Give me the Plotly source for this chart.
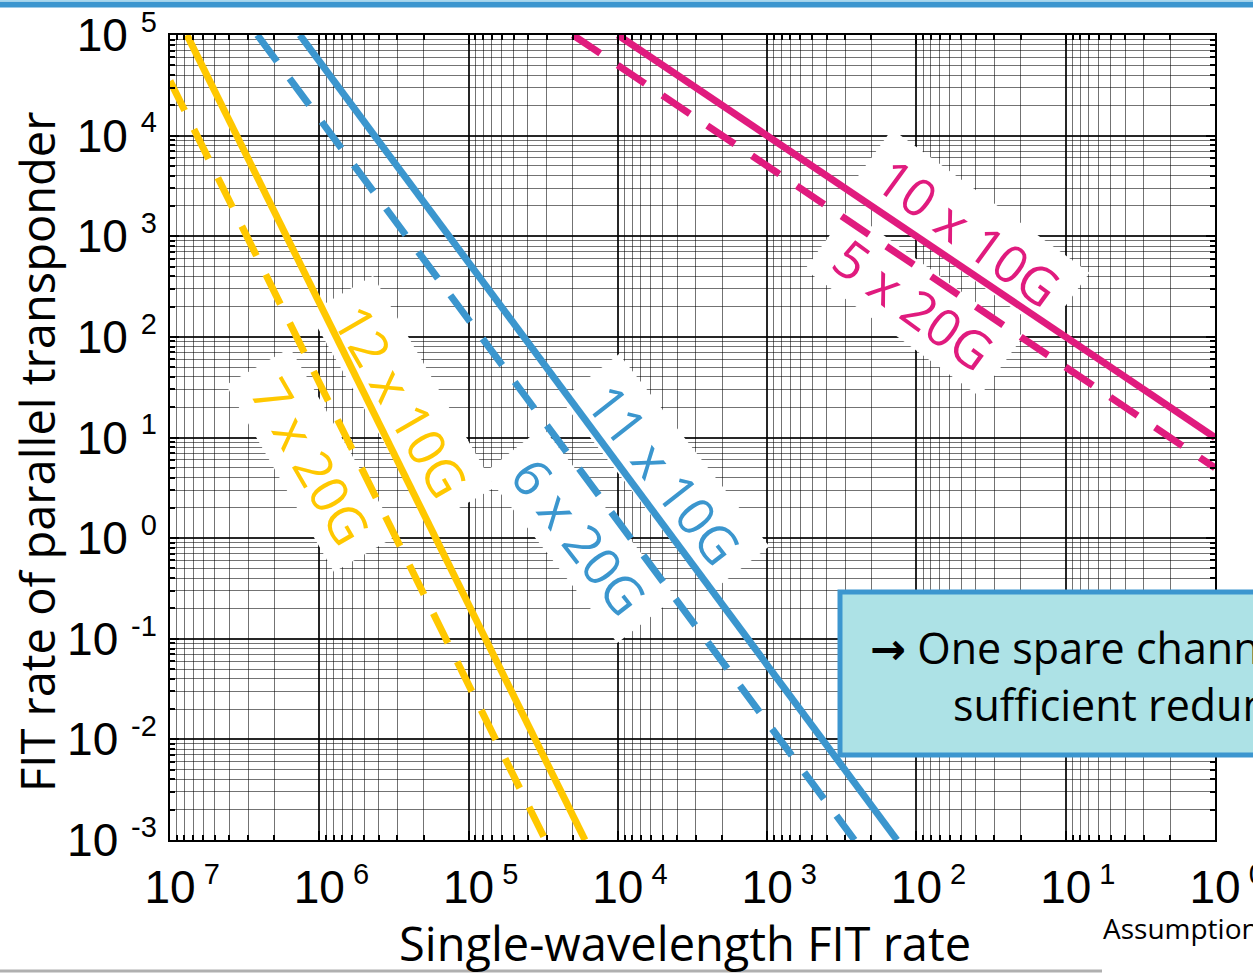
import math
import plotly.graph_objects as go

# ---- data ----
x_10x10G = [1e4, 1.0]
y_10x10G = [1e5, 10.0]
x_5x20G = [2e4, 1.0]
y_5x20G = [1e5, 5.0]
x_11x10G = [1.35e6, 135.0]
y_11x10G = [1e5, 1e-3]
x_6x20G = [2.6e6, 260.0]
y_6x20G = [1e5, 1e-3]
x_12x10G = [7.7e6, 1.66e4]
y_12x10G = [1e5, 1e-3]
x_7x20G = [1e7, 3.06e4]
y_7x20G = [3.5e4, 1e-3]

x_exponents = [7, 6, 5, 4, 3, 2, 1, 0]
y_exponents = [5, 4, 3, 2, 1, 0, -1, -2, -3]
minor_mults = [2, 3, 4, 5, 6, 7, 8, 9]

YELLOW = "#FFC800"
BLUE = "#3B96CE"
MAGENTA = "#E01B7E"

# plot-area geometry (pixels)
L, R, T, B = 170, 1215, 35, 840
W_FIG, H_FIG = 1253, 975
XDEC = (R - L) / 7.0
YDEC = (B - T) / 8.0


def px2log(px, py):
    return 7 - (px - L) / XDEC, 5 - (py - T) / YDEC


fig = go.Figure()

# ---- curve labels: (text, centre px, centre py, angle, colour, box length) ----
LABEL_SIZE = 52
labels = [
    ("10 x 10G", 969, 231, 36, MAGENTA, 244),
    ("5 x 20G", 914, 303, 36, MAGENTA, 216),
    ("11 x 10G", 665, 473, 52, BLUE, 244),
    ("6 x 20G", 580, 535, 52, BLUE, 216),
    ("12 x 10G", 402, 400, 60, YELLOW, 244),
    ("7 x 20G", 312, 460, 60, YELLOW, 216),
]
BOX_T = 74

# white label boxes (under the lines, above the grid)
for text, cx, cy, ang, col, blen in labels:
    a = math.radians(ang)
    ux, uy = math.cos(a), math.sin(a)
    nx, ny = -math.sin(a), math.cos(a)
    xs, ys = [], []
    for su, sn in [(-1, -1), (1, -1), (1, 1), (-1, 1), (-1, -1)]:
        px = cx + su * blen / 2 * ux + sn * BOX_T / 2 * nx
        py = cy + su * blen / 2 * uy + sn * BOX_T / 2 * ny
        lx, ly = px2log(px, py)
        xs.append(10 ** lx)
        ys.append(10 ** ly)
    fig.add_trace(go.Scatter(x=xs, y=ys, mode="lines", fill="toself",
                             fillcolor="white", line=dict(width=0, color="white"),
                             showlegend=False, hoverinfo="skip"))


def add_line(x, y, color, dash):
    fig.add_trace(go.Scatter(x=x, y=y, mode="lines",
                             line=dict(color=color, width=7, dash=dash),
                             showlegend=False, hoverinfo="skip"))


DASH = "33px,21px"
add_line(x_7x20G, y_7x20G, YELLOW, DASH)
add_line(x_12x10G, y_12x10G, YELLOW, "solid")
add_line(x_6x20G, y_6x20G, BLUE, DASH)
add_line(x_11x10G, y_11x10G, BLUE, "solid")
add_line(x_5x20G, y_5x20G, MAGENTA, DASH)
add_line(x_10x10G, y_10x10G, MAGENTA, "solid")

for text, cx, cy, ang, col, blen in labels:
    lx, ly = px2log(cx, cy)
    fig.add_annotation(x=lx, y=ly, xref="x", yref="y", text=text, showarrow=False,
                       textangle=ang, xanchor="center", yanchor="middle",
                       font=dict(family="Open Sans", size=LABEL_SIZE, color=col))

xt = [10.0 ** e for e in x_exponents]
yt = [10.0 ** e for e in y_exponents]
x_minor = [m * 10.0 ** e for e in range(0, 7) for m in minor_mults]
y_minor = [m * 10.0 ** e for e in range(-3, 5) for m in minor_mults]

SUP = "<sup><span style='font-size:29px'>{}</span></sup>"
SUPX = "<sup><span style='font-size:29px'>&nbsp;{}</span></sup>"
HID = "<span style='color:rgba(0,0,0,0)'>" + SUPX + "</span>"
x_ticktext = [HID.format(e) + "10" + SUPX.format(e) for e in x_exponents]
y_ticktext = ["10 " + SUP.format(e) for e in y_exponents]

tickfont = dict(family="Liberation Sans, Arial", size=46, color="black")
common = dict(type="log", showline=True, linecolor="black", linewidth=2,
              mirror="allticks", ticks="inside", ticklen=9, tickcolor="black",
              tickwidth=1.5, showgrid=True, gridcolor="rgba(0,0,0,0.85)",
              gridwidth=1.5, zeroline=False, tickfont=tickfont,
              ticklabeloverflow="allow")

fig.update_xaxes(range=[7, 0], tickvals=xt, ticktext=x_ticktext,
                 minor=dict(tickvals=x_minor, ticks="inside", ticklen=5,
                            tickcolor="black", showgrid=True,
                            gridcolor="rgba(0,0,0,0.55)", gridwidth=1),
                 ticklabelstandoff=6, **common)
fig.update_yaxes(range=[-3, 5], tickvals=yt, ticktext=y_ticktext,
                 minor=dict(tickvals=y_minor, ticks="inside", ticklen=5,
                            tickcolor="black", showgrid=True,
                            gridcolor="rgba(0,0,0,0.55)", gridwidth=1),
                 ticklabelstandoff=2, **common)


def pxx(px):
    return (px - L) / (R - L)


def pxy(py):
    return (B - py) / (B - T)


# axis titles
fig.add_annotation(x=pxx(37), y=pxy(452), xref="paper", yref="paper",
                   xanchor="center", yanchor="middle",
                   text="FIT rate of parallel transponder", showarrow=False,
                   textangle=-90, font=dict(family="Open Sans", size=47, color="black"))
fig.add_annotation(x=pxx(685), y=pxy(943), xref="paper", yref="paper",
                   xanchor="center", yanchor="middle",
                   text="Single-wavelength FIT rate", showarrow=False,
                   font=dict(family="Open Sans", size=47, color="black"))

# callout box
fig.add_shape(type="rect", xref="paper", yref="paper", x0=pxx(840), x1=pxx(1275),
              y0=pxy(755), y1=pxy(592), fillcolor="#ADE2E6",
              line=dict(color="#3C96CF", width=5), layer="above")
fig.add_annotation(x=pxx(868), y=pxy(647), xref="paper", yref="paper",
                   xanchor="left", yanchor="middle",
                   text="<span style='font-family:DejaVu Sans'><b>→</b></span> One spare channel provides",
                   showarrow=False,
                   font=dict(family="Open Sans", size=43, color="black"))
fig.add_annotation(x=pxx(951), y=pxy(704), xref="paper", yref="paper",
                   xanchor="left", yanchor="middle",
                   text="sufficient redundancy", showarrow=False,
                   font=dict(family="Open Sans", size=43, color="black"))

fig.add_annotation(x=pxx(1101), y=pxy(928), xref="paper", yref="paper",
                   xanchor="left", yanchor="middle", text="Assumptions: MTTR",
                   showarrow=False,
                   font=dict(family="Open Sans", size=28, color="black"))

# decorative bars
fig.add_shape(type="rect", xref="paper", yref="paper", x0=pxx(-5), x1=pxx(1260),
              y0=pxy(7.5), y1=pxy(1.5), fillcolor="#3C96CF",
              line=dict(width=0), layer="above")
fig.add_shape(type="rect", xref="paper", yref="paper", x0=pxx(-5), x1=pxx(1260),
              y0=pxy(1.5), y1=pxy(-1), fillcolor="#A8D8EE",
              line=dict(width=0), layer="above")
fig.add_shape(type="line", xref="paper", yref="paper", x0=pxx(-5), x1=pxx(1102),
              y0=pxy(971), y1=pxy(971),
              line=dict(color="#B0B0B0", width=3))

fig.update_layout(width=W_FIG, height=H_FIG,
                  margin=dict(l=L, r=W_FIG - R, t=T, b=H_FIG - B, autoexpand=False),
                  paper_bgcolor="white", plot_bgcolor="white", showlegend=False)

fig.write_html("out.html", config={"displayModeBar": False},
               post_script="document.body.style.margin='0px';")
